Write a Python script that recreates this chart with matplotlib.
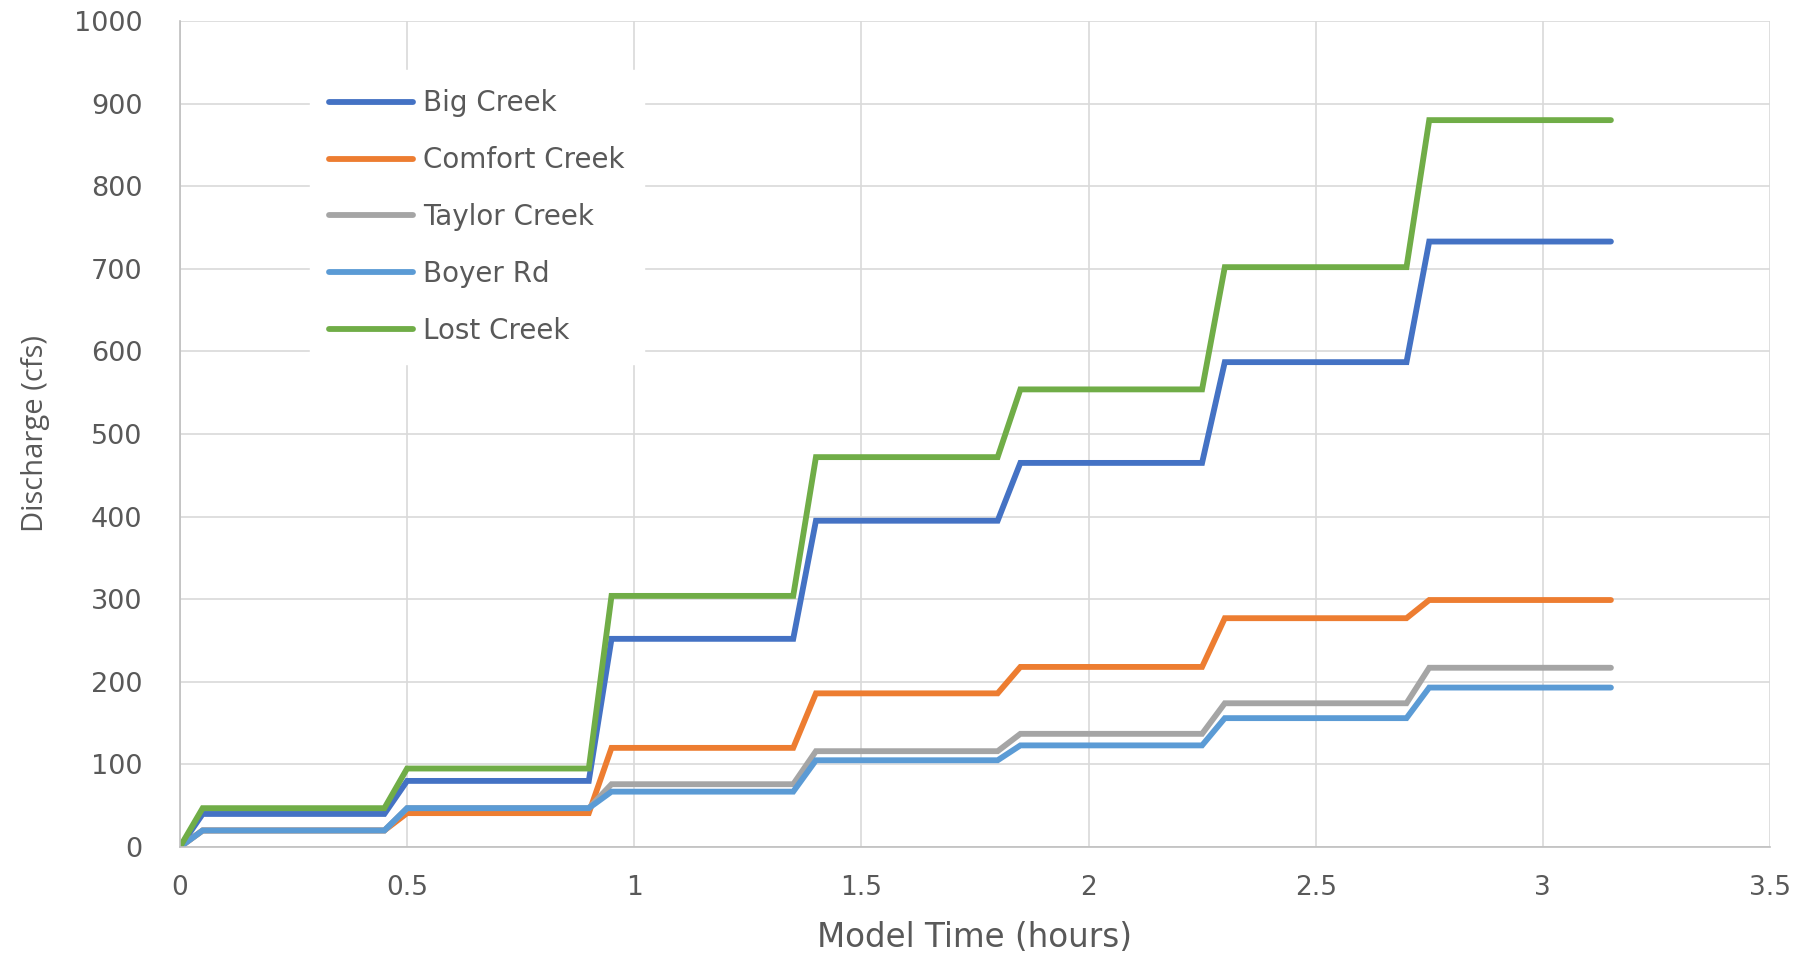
import matplotlib
matplotlib.use("Agg")
import matplotlib.pyplot as plt
from matplotlib import font_manager

# Model time (hours) at each hydrograph breakpoint
time_hr = [0, 0.05, 0.45, 0.5, 0.9, 0.95, 1.35, 1.4, 1.8, 1.85, 2.25, 2.3, 2.7, 2.75, 3.15]

# Discharge (cfs) per gauge at each breakpoint
big_creek     = [0, 40, 40, 80, 80, 252, 252, 395, 395, 465, 465, 587, 587, 733, 733]
comfort_creek = [0, 20, 20, 41, 41, 120, 120, 186, 186, 218, 218, 277, 277, 299, 299]
taylor_creek  = [0, 20, 20, 47, 47, 76, 76, 116, 116, 137, 137, 174, 174, 217, 217]
boyer_rd      = [0, 20, 20, 47, 47, 67, 67, 105, 105, 123, 123, 156, 156, 193, 193]
lost_creek    = [0, 47, 47, 95, 95, 304, 304, 472, 472, 554, 554, 702, 702, 880, 880]

series_names = ["Big Creek", "Comfort Creek", "Taylor Creek", "Boyer Rd", "Lost Creek"]
series_values = [big_creek, comfort_creek, taylor_creek, boyer_rd, lost_creek]
series_colors = ["#4472C4", "#ED7D31", "#A5A5A5", "#5B9BD5", "#70AD47"]

x_ticks = [0, 0.5, 1, 1.5, 2, 2.5, 3, 3.5]
x_tick_labels = ["0", "0.5", "1", "1.5", "2", "2.5", "3", "3.5"]
y_ticks = [0, 100, 200, 300, 400, 500, 600, 700, 800, 900, 1000]

available = {f.name for f in font_manager.fontManager.ttflist}
label_font = "Open Sans" if "Open Sans" in available else "DejaVu Sans"
main_font = "DejaVu Sans"

text_color = "#595959"
grid_color = "#D9D9D9"

fig = plt.figure(figsize=(18.14, 9.55), dpi=100)
ax = fig.add_axes([0.0992, 0.1131, 0.8765, 0.8649])

for name, vals, col in zip(series_names, series_values, series_colors):
    ax.plot(time_hr, vals, color=col, lw=4.2, label=name,
            solid_joinstyle="miter", solid_capstyle="round")

ax.set_xlim(0, 3.5)
ax.set_ylim(0, 1000)
ax.set_xticks(x_ticks)
ax.set_xticklabels(x_tick_labels, fontfamily=main_font, fontsize=19, color=text_color)
ax.set_yticks(y_ticks)
ax.set_yticklabels([str(v) for v in y_ticks], fontfamily=main_font, fontsize=19.5, color=text_color)
ax.tick_params(axis="both", length=0)
ax.tick_params(axis="x", pad=20)
ax.tick_params(axis="y", pad=27)

ax.grid(True, color=grid_color, lw=1.2)
ax.set_axisbelow(True)
for side in ["top", "right"]:
    ax.spines[side].set_visible(False)
for side in ["left", "bottom"]:
    ax.spines[side].set_color("#BFBFBF")
    ax.spines[side].set_linewidth(1.2)

ax.set_xlabel("Model Time (hours)", fontfamily=main_font, fontsize=23.5, color=text_color)
ax.xaxis.set_label_coords(0.5, -0.089)
ax.set_ylabel("Discharge (cfs)", fontfamily=label_font, fontsize=21, color=text_color)
ax.yaxis.set_label_coords(-0.082, 0.5)

leg = ax.legend(loc="upper left", bbox_to_anchor=(0.1708, 0.9268), bbox_transform=fig.transFigure,
                frameon=True, fancybox=False, edgecolor="white", facecolor="white", framealpha=1,
                prop={"family": main_font, "size": 20}, handlelength=3.02, handletextpad=0.36,
                labelspacing=1.04, borderpad=0.7, borderaxespad=0)
for t in leg.get_texts():
    t.set_color(text_color)

fig.savefig("out.png", dpi=100, facecolor="white")
